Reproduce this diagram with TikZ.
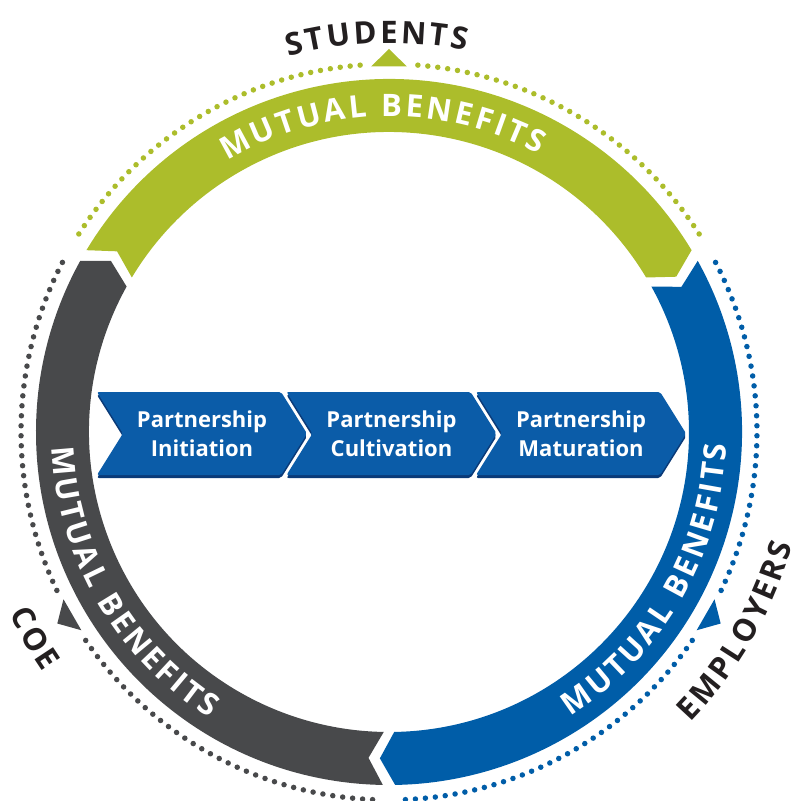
\documentclass[tikz,border=0pt]{standalone}
\usepackage{fontspec}
\setmainfont{Open Sans}
\newfontfamily\ringfont{Open Sans}
\usetikzlibrary{positioning,shapes.symbols,shadows,decorations.text}

\definecolor{ringgreen}{HTML}{ACBD2B}
\definecolor{ringblue}{HTML}{005DA8}
\definecolor{ringgray}{HTML}{48494B}
\definecolor{stepblue}{HTML}{0B5CA8}
\definecolor{stepshade}{HTML}{0A3A78}
\definecolor{labelblack}{HTML}{231F20}

\begin{document}
\begin{tikzpicture}[x=1pt,y=1pt,
		dotring/.style={line width=5.5pt,line cap=round,dash pattern=on 0pt off 10pt},
		curvetext/.style 2 args={decorate,decoration={text along path,text align=center,text color=#1,
			text={|\ringfont\bfseries\fontsize{31}{31}\selectfont\kern3pt|#2}}}]
		\useasboundingbox (-389,-369) rectangle (405,432);

		% ring parts, tail angle given, each part runs 120 degrees clockwise
		\foreach \col/\t in {ringgreen/150, ringgray/270, ringblue/390}
			\fill[\col] ({\t-1}:353) arc[start angle={\t-1}, end angle={\t-119}, radius=353]
				-- ({\t-121.6}:326.5) -- ({\t-119}:300)
				arc[start angle={\t-119}, end angle={\t-1}, radius=300]
				-- ({\t-3.6}:326.5) -- cycle;

		% dotted outer ring with a marker in the middle of each part
		\foreach \col/\m in {ringgreen/90, ringgray/210, ringblue/330} {
			\draw[\col,dotring] ({\m+4.5}:368) arc[start angle={\m+4.5}, end angle={\m+57.5}, radius=368];
			\draw[\col,dotring] ({\m-4.5}:368) arc[start angle={\m-4.5}, end angle={\m-57.5}, radius=368];
			\fill[\col] ({\m+2.8}:366) -- (\m:383) -- ({\m-2.8}:366) -- cycle;
		}

		\path[curvetext={white}{MUTUAL BENEFITS}] (151.5:315.5) arc[start angle=151.5, end angle=31.5, radius=315.5];
		\path[curvetext={white}{MUTUAL BENEFITS}] (150:337.5) arc[start angle=150, end angle=270, radius=337.5];
		\path[curvetext={white}{MUTUAL BENEFITS}] (-90:337.5) arc[start angle=-90, end angle=30, radius=337.5];

		\path[curvetext={labelblack}{STUDENTS}] (142:389) arc[start angle=142, end angle=42, radius=389];
		\path[curvetext={labelblack}{EMPLOYERS}] (-70:419) arc[start angle=-70, end angle=10, radius=419];
		\path[curvetext={labelblack}{COE}] (170:421) arc[start angle=170, end angle=250, radius=421];

		\begin{scope}[every node/.style={signal,signal from=west,signal to=east,signal pointer angle=116,
				fill=stepblue,text=white,align=center,minimum width=210pt,minimum height=83pt,
				inner sep=0pt,rounded corners=2pt,general shadow={fill=stepshade,shadow yshift=-3pt},
				font=\bfseries\fontsize{22}{29}\selectfont}]
			\node (initiation) at (-187,-1.5) {Partnership\\Initiation};
			\node[right=5pt of initiation] (cultivation) {Partnership\\Cultivation};
			\node[right=5pt of cultivation] (maturation) {Partnership\\Maturation};
		\end{scope}
\end{tikzpicture}
\end{document}
